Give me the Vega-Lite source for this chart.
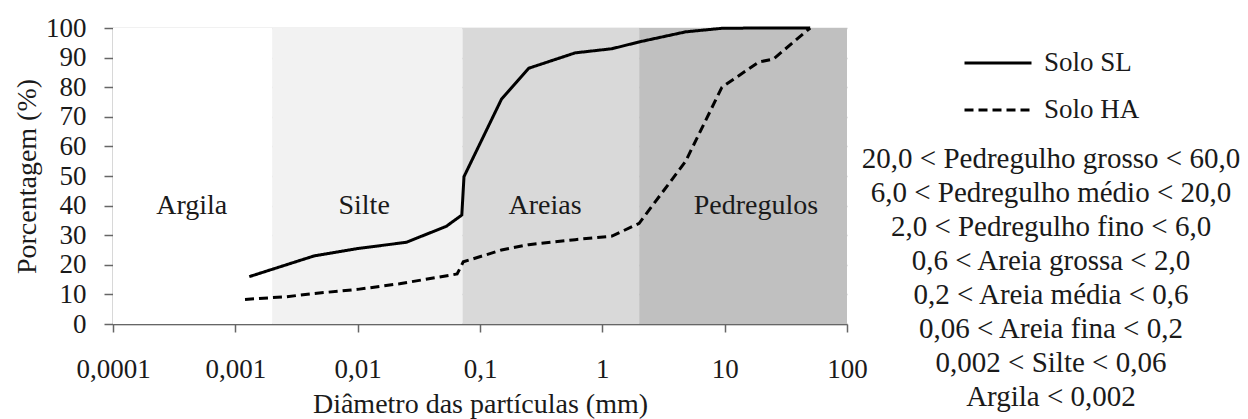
{
  "$schema": "https://vega.github.io/schema/vega-lite/v6.json",
  "width": 734,
  "height": 296,
  "autosize": "none",
  "padding": {"left": 113, "top": 28, "right": 401, "bottom": 95},
  "background": "white",
  "config": {
    "font": "Liberation Serif",
    "view": {"stroke": null},
    "style": {
      "guide-label": {"font": "Liberation Serif"},
      "guide-title": {"font": "Liberation Serif"}
    },
    "axis": {
      "labelFont": "Liberation Serif",
      "titleFont": "Liberation Serif",
      "labelColor": "#1a1a1a",
      "titleColor": "#1a1a1a",
      "titleFontWeight": "normal",
      "domainColor": "#666666",
      "tickColor": "#666666",
      "domainWidth": 1.5,
      "tickWidth": 1.5,
      "labelOverlap": false,
      "labelFlush": false,
      "zindex": 1
    },
    "legend": {
      "labelFont": "Liberation Serif",
      "titleFont": "Liberation Serif"
    }
  },
  "layer": [
    {
      "data": {
        "values": [
          {"regiao": "Argila", "inicio": 0.0001, "fim": 0.002, "rotulo": 0.00044},
          {"regiao": "Silte", "inicio": 0.002, "fim": 0.072, "rotulo": 0.0113},
          {"regiao": "Areias", "inicio": 0.072, "fim": 2, "rotulo": 0.34},
          {"regiao": "Pedregulos", "inicio": 2, "fim": 100, "rotulo": 18}
        ]
      },
      "layer": [
        {
          "mark": {"type": "rect"},
          "encoding": {
            "x": {
              "field": "inicio",
              "type": "quantitative",
              "scale": {"type": "log", "domain": [0.0001, 100]},
              "axis": {
                "values": [0.0001, 0.001, 0.01, 0.1, 1, 10, 100],
                "labelExpr": "replace(toString(datum.value), '.', ',')",
                "grid": false,
                "tickSize": 8,
                "labelPadding": 24,
                "labelFontSize": 27,
                "title": "Diâmetro das partículas (mm)",
                "titleFontSize": 28,
                "titlePadding": 8
              }
            },
            "x2": {"field": "fim"},
            "color": {
              "field": "regiao",
              "type": "nominal",
              "scale": {
                "domain": ["Argila", "Silte", "Areias", "Pedregulos"],
                "range": ["#ffffff", "#f2f2f2", "#d9d9d9", "#c0c0c0"]
              },
              "legend": null
            }
          }
        },
        {
          "mark": {"type": "text", "fontSize": 28, "font": "Liberation Serif", "color": "#1a1a1a", "align": "center", "baseline": "middle"},
          "encoding": {
            "x": {"field": "rotulo", "type": "quantitative"},
            "y": {
              "datum": 40,
              "type": "quantitative",
              "scale": {"domain": [0, 100], "nice": false},
              "axis": {
                "values": [0, 10, 20, 30, 40, 50, 60, 70, 80, 90, 100],
                "grid": true,
                "gridColor": "#000000",
                "gridOpacity": 0.22,
                "gridWidth": 1.5,
                "tickSize": 9,
                "labelPadding": 18,
                "labelFontSize": 27,
                "title": "Porcentagem (%)",
                "titleFontSize": 28,
                "titlePadding": 4
              }
            },
            "text": {"field": "regiao"}
          }
        }
      ]
    },
    {
      "data": {
        "values": [
          {"solo": "Solo SL", "diametro": 0.0013, "passante": 16.0},
          {"solo": "Solo SL", "diametro": 0.0044, "passante": 23.0},
          {"solo": "Solo SL", "diametro": 0.01, "passante": 25.5},
          {"solo": "Solo SL", "diametro": 0.025, "passante": 27.6},
          {"solo": "Solo SL", "diametro": 0.053, "passante": 33.0},
          {"solo": "Solo SL", "diametro": 0.071, "passante": 36.8},
          {"solo": "Solo SL", "diametro": 0.074, "passante": 49.8},
          {"solo": "Solo SL", "diametro": 0.15, "passante": 76.0},
          {"solo": "Solo SL", "diametro": 0.25, "passante": 86.4},
          {"solo": "Solo SL", "diametro": 0.6, "passante": 91.6},
          {"solo": "Solo SL", "diametro": 1.2, "passante": 93.0},
          {"solo": "Solo SL", "diametro": 2.0, "passante": 95.3},
          {"solo": "Solo SL", "diametro": 4.8, "passante": 98.7},
          {"solo": "Solo SL", "diametro": 9.5, "passante": 99.9},
          {"solo": "Solo SL", "diametro": 19, "passante": 100},
          {"solo": "Solo SL", "diametro": 25, "passante": 100},
          {"solo": "Solo SL", "diametro": 50, "passante": 100},
          {"solo": "Solo HA", "diametro": 0.0012, "passante": 8.3},
          {"solo": "Solo HA", "diametro": 0.0026, "passante": 9.2},
          {"solo": "Solo HA", "diametro": 0.0044, "passante": 10.3},
          {"solo": "Solo HA", "diametro": 0.01, "passante": 11.7},
          {"solo": "Solo HA", "diametro": 0.022, "passante": 13.6},
          {"solo": "Solo HA", "diametro": 0.065, "passante": 16.9},
          {"solo": "Solo HA", "diametro": 0.073, "passante": 21.0},
          {"solo": "Solo HA", "diametro": 0.15, "passante": 25.0},
          {"solo": "Solo HA", "diametro": 0.25, "passante": 26.8},
          {"solo": "Solo HA", "diametro": 0.6, "passante": 28.5},
          {"solo": "Solo HA", "diametro": 1.2, "passante": 29.7},
          {"solo": "Solo HA", "diametro": 2.0, "passante": 34.0},
          {"solo": "Solo HA", "diametro": 4.8, "passante": 55.0},
          {"solo": "Solo HA", "diametro": 9.5, "passante": 80.0},
          {"solo": "Solo HA", "diametro": 19, "passante": 88.5},
          {"solo": "Solo HA", "diametro": 25, "passante": 89.5},
          {"solo": "Solo HA", "diametro": 50, "passante": 100}
        ]
      },
      "mark": {"type": "line", "color": "black", "strokeWidth": 3, "interpolate": "linear"},
      "encoding": {
        "x": {"field": "diametro", "type": "quantitative"},
        "y": {
          "field": "passante",
          "type": "quantitative",
          "scale": {"domain": [0, 100], "nice": false},
          "axis": {
            "values": [0, 10, 20, 30, 40, 50, 60, 70, 80, 90, 100],
            "grid": true,
            "gridColor": "#000000",
            "gridOpacity": 0.22,
            "gridWidth": 1.5,
            "tickSize": 9,
            "labelPadding": 18,
            "labelFontSize": 27,
            "title": "Porcentagem (%)",
            "titleFontSize": 28,
            "titlePadding": 4
          }
        },
        "strokeDash": {
          "field": "solo",
          "type": "nominal",
          "scale": {"domain": ["Solo SL", "Solo HA"], "range": [[1, 0], [9, 5]]},
          "legend": {
            "orient": "none",
            "legendX": 749,
            "legendY": 20,
            "title": [
              "20,0 < Pedregulho grosso < 60,0",
              "6,0 < Pedregulho médio < 20,0",
              "2,0 < Pedregulho fino < 6,0",
              "0,6 < Areia grossa < 2,0",
              "0,2 < Areia média < 0,6",
              "0,06 < Areia fina < 0,2",
              "0,002 < Silte <  0,06",
              "Argila < 0,002"
            ],
            "titleOrient": "bottom",
            "titleAnchor": "middle",
            "titleAlign": "center",
            "titleBaseline": "top",
            "titleFontSize": 29,
            "titleFontWeight": "normal",
            "titleColor": "#1a1a1a",
            "titleLineHeight": 34,
            "titlePadding": 20,
            "titleLimit": 600,
            "symbolType": "stroke",
            "symbolSize": 4489,
            "symbolStrokeWidth": 3,
            "symbolStrokeColor": "#000000",
            "labelFontSize": 27,
            "labelColor": "#1a1a1a",
            "labelOffset": 11,
            "labelLimit": 300,
            "clipHeight": 30,
            "rowPadding": 17
          }
        }
      }
    }
  ]
}
